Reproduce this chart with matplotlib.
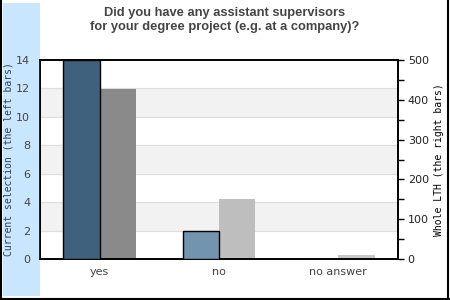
"""Recreate the assistant-supervisor survey bar chart."""

import matplotlib.pyplot as plt
import numpy as np
from matplotlib.lines import Line2D
from matplotlib.patches import Rectangle


CATEGORIES = ["yes", "no", "no answer"]
CURRENT_COUNTS = [14, 2, 0]
WHOLE_LTH_COUNTS = [428, 150, 10]

LEFT_TICKS = [0, 2, 4, 6, 8, 10, 12, 14]
RIGHT_TICKS = [0, 100, 200, 300, 400, 500]

CURRENT_COLORS = ["#3f617e", "#7294af", "#7294af"]
WHOLE_COLORS = ["#8a8a8a", "#bebebe", "#c8c8c8"]
STRIP_COLOR = "#c8e7fe"
BAND_COLOR = "#f2f2f2"
TEXT_COLOR = "#444444"

TITLE = "Did you have any assistant supervisors\nfor your degree project (e.g. at a company)?"


def draw_frame(figure: plt.Figure) -> None:
    """Draw the blue label strip and the outer black frame."""
    figure.patches.append(
        Rectangle(
            (3 / 450, 4 / 300),
            37 / 450,
            293 / 300,
            transform=figure.transFigure,
            facecolor=STRIP_COLOR,
            edgecolor="none",
            zorder=0,
        )
    )
    for xs, ys in (
        ([0.002, 0.002], [0.0, 1.0]),
        ([0.0, 1.0], [0.004, 0.004]),
        ([0.996, 0.996], [0.0, 1.0]),
    ):
        figure.lines.append(
            Line2D(xs, ys, transform=figure.transFigure, color="black",
                   linewidth=1.5)
        )


def main() -> None:
    figure = plt.figure(figsize=(4.5, 3.0), dpi=100)
    draw_frame(figure)
    left_axis = figure.add_axes((40 / 450, 41 / 300, 358 / 450, 199 / 300))
    right_axis = left_axis.twinx()

    # left axis on top so its bars cover the twin; twin keeps the background
    left_axis.set_zorder(right_axis.get_zorder() + 1)
    left_axis.patch.set_visible(False)
    right_axis.patch.set_visible(True)
    right_axis.patch.set_facecolor("white")

    positions = np.arange(len(CATEGORIES))
    width = 0.305
    scale = 500 / 14

    # alternating background bands, in right-axis units
    for low in (2, 6, 10):
        right_axis.axhspan(low * scale, (low + 2) * scale,
                           color=BAND_COLOR, zorder=0)
    for value in LEFT_TICKS[1:-1]:
        right_axis.axhline(value * scale, color="#dddddd",
                           linewidth=0.8, zorder=0.5)

    right_axis.bar(
        positions + width / 2,
        WHOLE_LTH_COUNTS,
        width=width,
        color=WHOLE_COLORS,
        edgecolor="none",
        zorder=2,
    )
    left_axis.bar(
        positions - width / 2,
        CURRENT_COUNTS,
        width=width,
        color=CURRENT_COLORS,
        edgecolor="black",
        linewidth=1.0,
        zorder=3,
    )

    left_axis.set_xlim(-0.5, 2.5)
    left_axis.set_ylim(0, 14)
    right_axis.set_ylim(0, 500)

    left_axis.set_xticks(positions, CATEGORIES)
    left_axis.set_yticks(LEFT_TICKS)
    right_axis.set_yticks(RIGHT_TICKS)
    right_axis.set_yticks(np.arange(50, 500, 100), minor=True)

    left_axis.tick_params(axis="x", length=0, pad=6, labelsize=8,
                          labelcolor=TEXT_COLOR)
    left_axis.tick_params(axis="y", length=0, pad=7, labelsize=8,
                          labelcolor=TEXT_COLOR)
    right_axis.tick_params(axis="y", which="both", length=4, width=1,
                           direction="out", pad=3, labelsize=8,
                           labelcolor="#222222")

    for axis in (left_axis, right_axis):
        for spine in axis.spines.values():
            spine.set_color("black")
            spine.set_linewidth(1.2)

    left_axis.set_ylabel(
        "Current selection (the left bars)",
        family="DejaVu Sans Mono",
        fontsize=7,
        color="#2b3f5a",
        labelpad=2,
    )
    right_axis.set_ylabel(
        "Whole LTH (the right bars)",
        family="DejaVu Sans Mono",
        fontsize=7,
        color="black",
        labelpad=4,
    )

    figure.text(
        0.5,
        1 - 20 / 300,
        TITLE,
        ha="center",
        va="center",
        family="Liberation Sans",
        fontweight="bold",
        fontsize=9.3,
        color=TEXT_COLOR,
        linespacing=1.2,
    )

    figure.savefig("out.png", dpi=100)
    plt.close(figure)


if __name__ == "__main__":
    main()
